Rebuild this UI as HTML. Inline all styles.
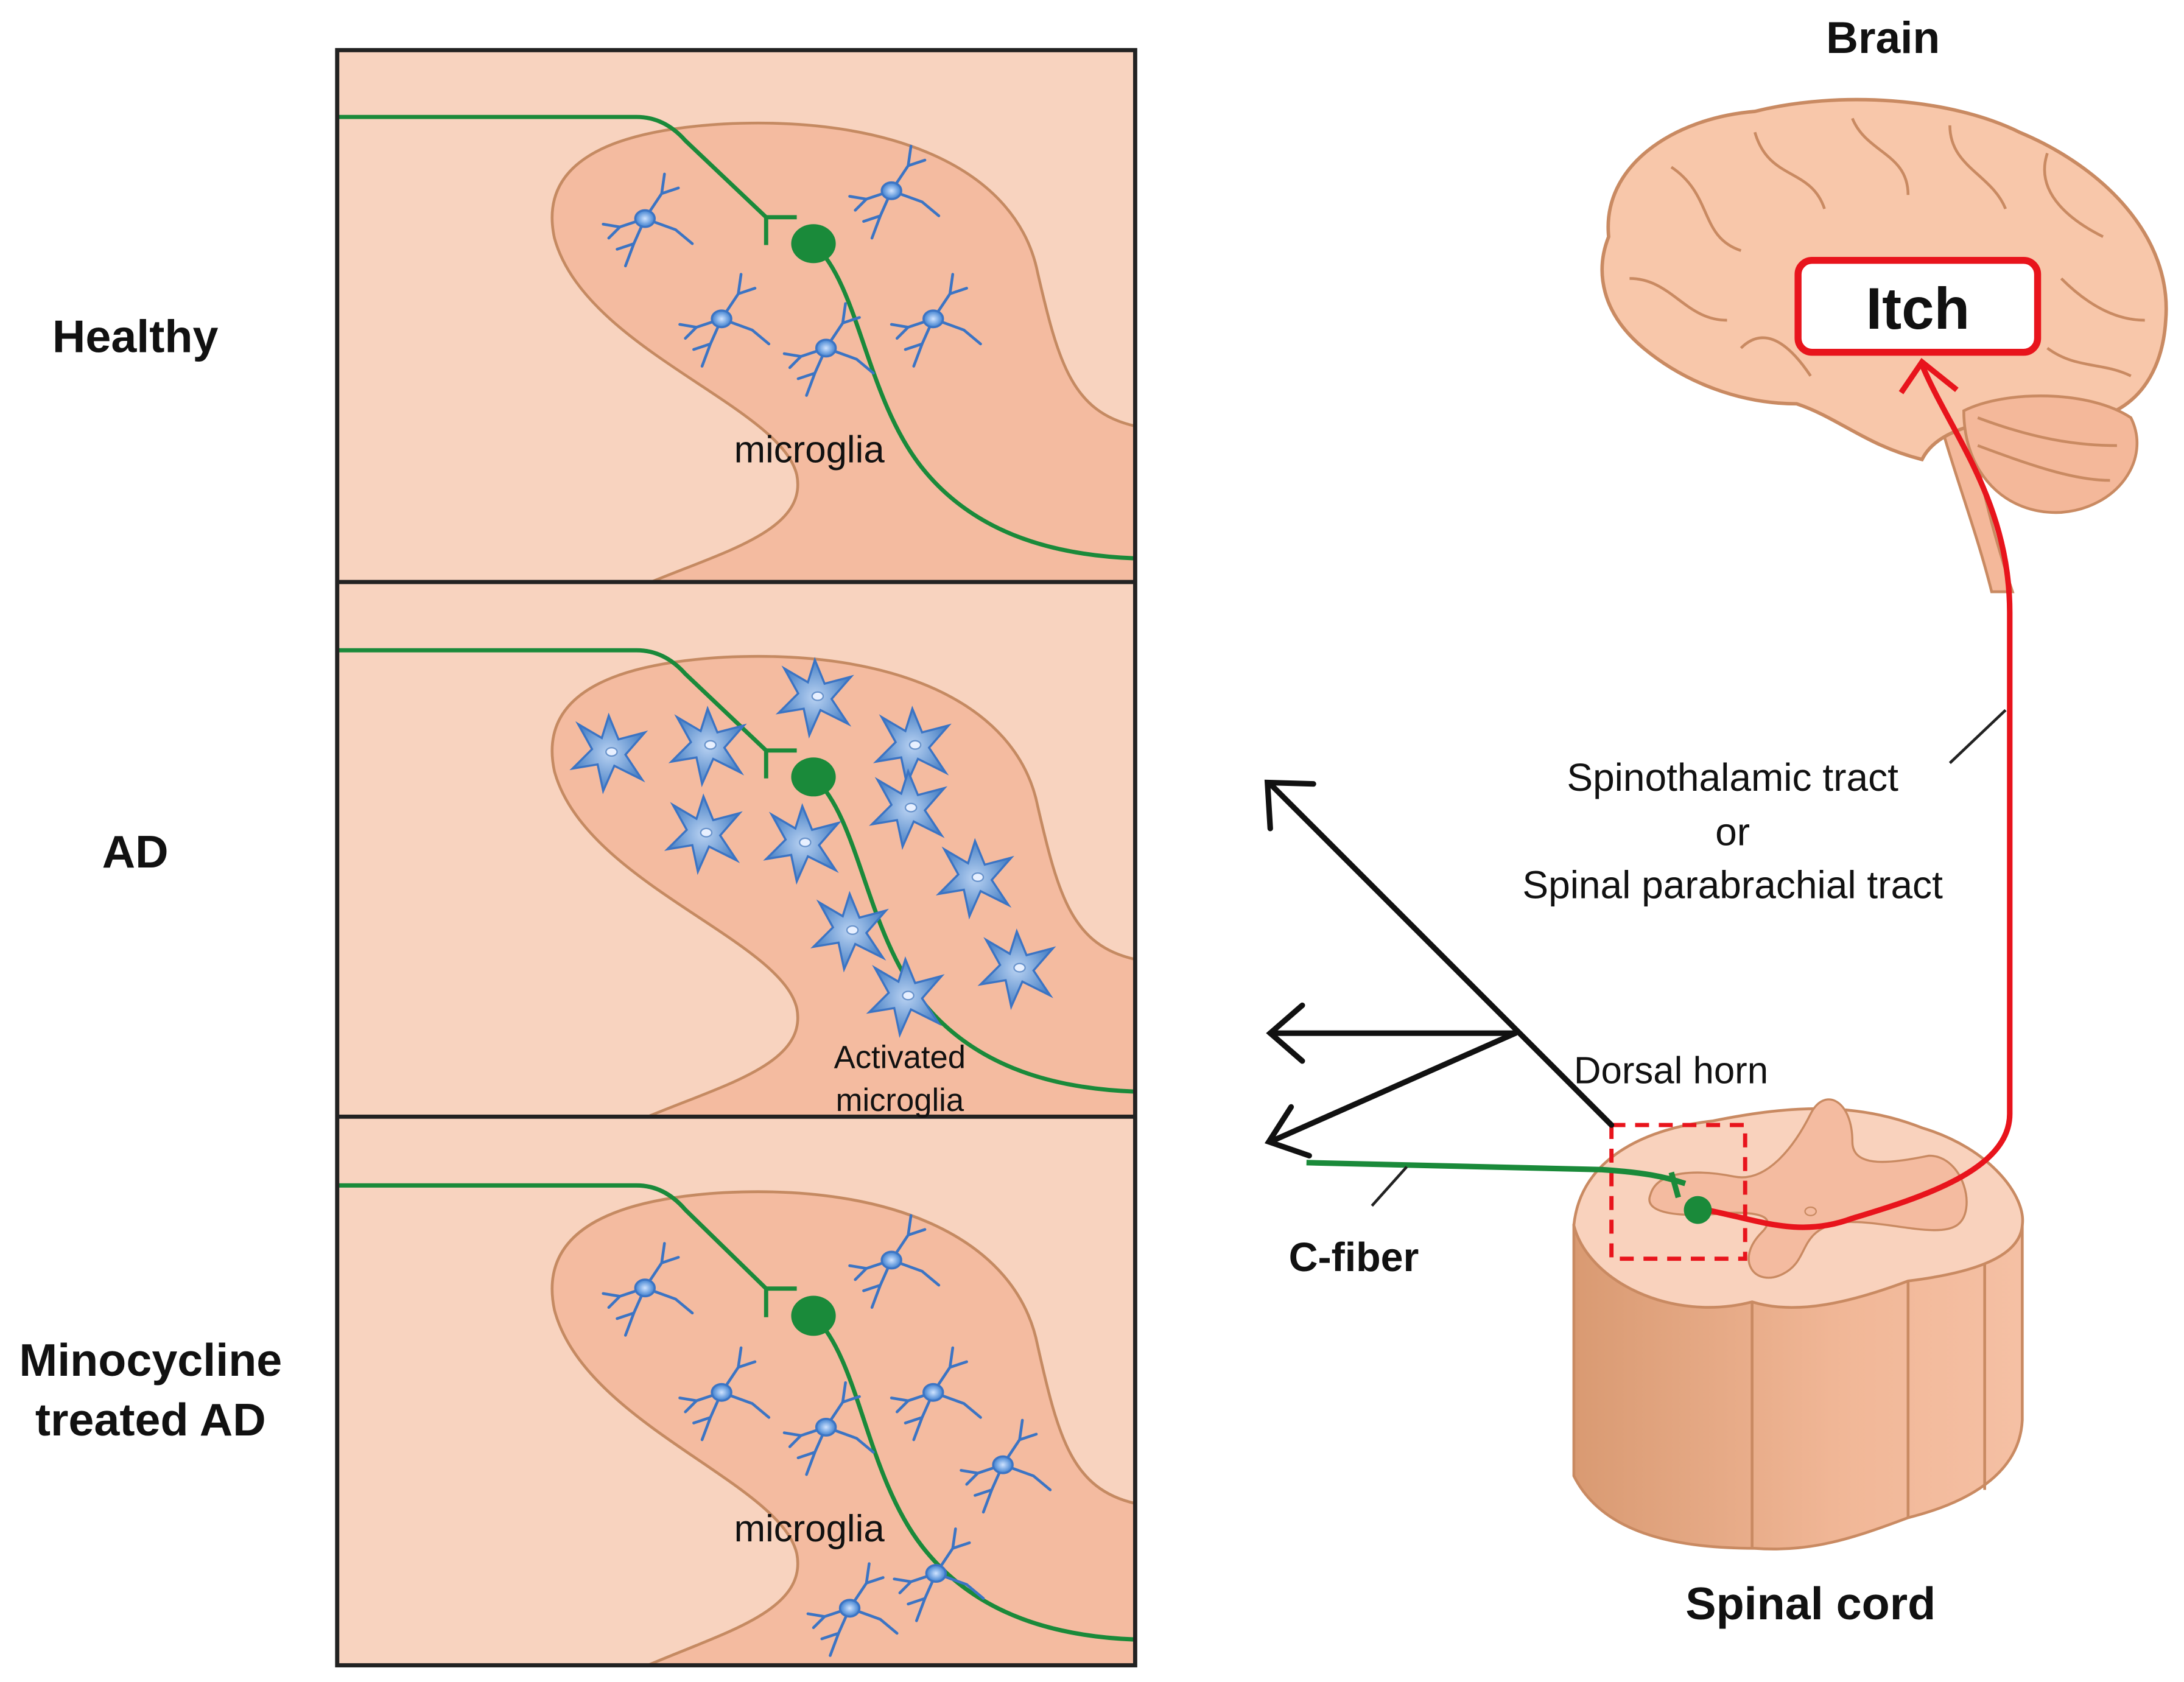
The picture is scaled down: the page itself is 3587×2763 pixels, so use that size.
<!DOCTYPE html>
<html><head><meta charset="utf-8"><style>
html,body{margin:0;padding:0;background:#fff;}
svg{display:block;}
text{font-family:"Liberation Sans",Arial,sans-serif;}
</style></head><body>
<svg width="3587" height="2763" viewBox="0 0 1568 1208" xmlns="http://www.w3.org/2000/svg">
<defs>
<linearGradient id="col" x1="0" x2="1" y1="0" y2="0"><stop offset="0" stop-color="#d99a72"/><stop offset="0.6" stop-color="#f1b797"/><stop offset="1" stop-color="#f5c0a4"/></linearGradient>
<radialGradient id="cell"><stop offset="0" stop-color="#cfe3ff"/><stop offset="1" stop-color="#3d7fcf"/></radialGradient>
<radialGradient id="act"><stop offset="0" stop-color="#b9d2f2"/><stop offset="1" stop-color="#4a82c6"/></radialGradient>
<g id="mg" stroke="#3b74c4" stroke-width="2" fill="none" stroke-linecap="round">
<path d="M0,0 L-18,6 L-30,4 M-18,6 L-26,14 M0,0 L12,-18 L14,-32 M12,-18 L24,-22 M0,0 L-8,18 L-14,34 M-8,18 L-20,22 M0,0 L22,8 L34,18"/>
<ellipse cx="0" cy="0" rx="7" ry="6" fill="url(#cell)" stroke="#3b74c4" stroke-width="1.5"/>
</g>
<g id="am">
<path d="M0,-26 L7,-9 L26,-14 L12,2 L24,20 L4,10 L-4,28 L-8,9 L-26,12 L-12,-2 L-22,-20 L-5,-10 Z" fill="url(#act)" stroke="#3b74c4" stroke-width="1.5"/>
<ellipse cx="2" cy="0" rx="4" ry="3" fill="#e8f0ff" stroke="#6a94cc" stroke-width="1"/>
</g>
<g id="panel">
<rect x="0" y="0" width="573" height="383" fill="#f8d3bf"/>
<path d="M223,383 C278,360 338,345 330,305 C318,255 178,215 156,135 C143,75 208,57 278,53 C398,47 488,85 503,160 C518,225 528,260 573,270 L573,383 Z" fill="#f4bba0" stroke="#c58a62" stroke-width="2"/>
<path d="M0,48 L215,48 Q235,48 250,65 L308,120 L308,140 M308,120 L330,120" stroke="#1a8a3a" stroke-width="3" fill="none"/>
<path d="M343,140 C375,170 380,250 420,300 C460,350 520,363 573,365" stroke="#1a8a3a" stroke-width="3" fill="none"/>
<ellipse cx="342" cy="139" rx="16" ry="14" fill="#1a8a3a"/>
</g>
</defs>

<use href="#panel" x="242" y="36"/>
<use href="#panel" x="242" y="419"/>
<g transform="translate(242,802) scale(1,1.0287)"><use href="#panel"/></g>
<rect x="242" y="36" width="573" height="1160" fill="none" stroke="#222" stroke-width="3"/>
<line x1="242" y1="418" x2="815" y2="418" stroke="#222" stroke-width="3"/>
<line x1="242" y1="802" x2="815" y2="802" stroke="#222" stroke-width="3"/>

<use href="#mg" x="463" y="157"/>
<use href="#mg" x="640" y="137"/>
<use href="#mg" x="518" y="229"/>
<use href="#mg" x="593" y="250"/>
<use href="#mg" x="670" y="229"/>
<text x="581" y="332" font-size="27" text-anchor="middle" fill="#111">microglia</text>

<use href="#am" x="437" y="540"/>
<use href="#am" x="508" y="535"/>
<use href="#am" x="585" y="500"/>
<use href="#am" x="655" y="535"/>
<use href="#am" x="505" y="598"/>
<use href="#am" x="576" y="605"/>
<use href="#am" x="652" y="580"/>
<use href="#am" x="700" y="630"/>
<use href="#am" x="610" y="668"/>
<use href="#am" x="730" y="695"/>
<use href="#am" x="650" y="715"/>
<text x="646" y="767" font-size="23" text-anchor="middle" fill="#111">Activated</text>
<text x="646" y="798" font-size="23" text-anchor="middle" fill="#111">microglia</text>

<use href="#mg" x="463" y="925"/>
<use href="#mg" x="640" y="905"/>
<use href="#mg" x="518" y="1000"/>
<use href="#mg" x="593" y="1025"/>
<use href="#mg" x="670" y="1000"/>
<use href="#mg" x="720" y="1052"/>
<use href="#mg" x="672" y="1130"/>
<use href="#mg" x="610" y="1155"/>
<text x="581" y="1107" font-size="27" text-anchor="middle" fill="#111">microglia</text>

<text x="97" y="253" font-size="33" font-weight="bold" text-anchor="middle" fill="#111">Healthy</text>
<text x="97" y="623" font-size="33" font-weight="bold" text-anchor="middle" fill="#111">AD</text>
<text x="108" y="988" font-size="33" font-weight="bold" text-anchor="middle" fill="#111">Minocycline</text>
<text x="108" y="1031" font-size="33" font-weight="bold" text-anchor="middle" fill="#111">treated AD</text>

<text x="1352" y="38" font-size="32" font-weight="bold" text-anchor="middle" fill="#111">Brain</text>
<path d="M1415,300 C1420,340 1430,380 1445,425 L1430,425 C1420,385 1405,345 1395,310 Z" fill="#f4b89a" stroke="#c98a62" stroke-width="2"/>
<path d="M1155,170 C1150,120 1200,85 1260,80 C1320,65 1400,70 1450,95 C1510,120 1560,170 1555,230 C1552,280 1520,310 1470,300 C1420,300 1390,310 1380,330 C1340,320 1320,300 1290,290 C1250,290 1210,275 1180,250 C1150,225 1145,195 1155,170 Z" fill="#f8c7aa" stroke="#c98a62" stroke-width="2.5"/>
<path d="M1410,295 C1440,280 1500,280 1530,300 C1545,330 1520,365 1480,368 C1440,370 1410,340 1410,295 Z" fill="#f4b89a" stroke="#c98a62" stroke-width="2"/>
<g stroke="#c98a62" stroke-width="2" fill="none">
<path d="M1200,120 C1230,140 1220,170 1250,180 M1260,95 C1270,130 1300,120 1310,150 M1330,85 C1340,110 1370,110 1370,140 M1400,90 C1400,120 1430,125 1440,150 M1470,110 C1460,140 1490,160 1510,170 M1170,200 C1200,200 1210,230 1240,230 M1250,250 C1270,230 1290,255 1300,270 M1480,200 C1500,220 1520,230 1540,230 M1470,250 C1490,265 1510,260 1530,270 M1420,300 C1460,315 1490,320 1520,320 M1420,320 C1460,335 1490,345 1515,345"/>
</g>
<rect x="1291" y="187" width="172" height="66" rx="10" fill="#fff" stroke="#e8141c" stroke-width="5"/>
<text x="1377" y="236" font-size="42" font-weight="bold" text-anchor="middle" fill="#111">Itch</text>

<path d="M1130,880 L1130,1060 C1150,1100 1200,1112 1260,1112 C1300,1115 1330,1105 1370,1090 C1410,1080 1450,1060 1452,1020 L1452,880 Z" fill="url(#col)" stroke="#c98a62" stroke-width="2"/>
<line x1="1258" y1="935" x2="1258" y2="1112" stroke="#c98a62" stroke-width="2"/>
<line x1="1370" y1="920" x2="1370" y2="1090" stroke="#c98a62" stroke-width="2"/>
<line x1="1425" y1="900" x2="1425" y2="1070" stroke="#c98a62" stroke-width="2"/>
<path d="M1130,880 C1135,830 1185,810 1230,805 C1280,795 1330,790 1380,810 C1430,825 1455,860 1452,880 C1450,905 1410,915 1370,920 C1330,935 1290,945 1258,935 C1200,950 1140,920 1130,880 Z" fill="#f9d2bd" stroke="#c98a62" stroke-width="2"/>
<path d="M1185,858 C1190,840 1220,840 1245,845 C1270,850 1290,820 1300,800 C1310,780 1330,790 1330,820 C1330,840 1360,835 1385,830 C1410,830 1420,870 1405,880 C1390,890 1350,875 1320,878 C1290,885 1300,905 1280,915 C1260,925 1245,905 1265,885 C1280,870 1250,870 1230,872 C1200,874 1180,870 1185,858 Z" fill="#f4bba0" stroke="#c98a62" stroke-width="1.5"/>
<ellipse cx="1300" cy="870" rx="4" ry="3" fill="none" stroke="#c98a62" stroke-width="1"/>
<rect x="1157" y="808" width="96" height="96" fill="none" stroke="#e8141c" stroke-width="3" stroke-dasharray="10,7"/>
<text x="1300" y="1163" font-size="33" font-weight="bold" text-anchor="middle" fill="#111">Spinal cord</text>

<path d="M1220,868 C1260,875 1290,890 1330,875 C1380,860 1443,840 1443,800 L1443,440 C1443,360 1400,310 1380,262" fill="none" stroke="#e8141c" stroke-width="4"/>
<path d="M1365,282 L1380,260 L1405,280" fill="none" stroke="#e8141c" stroke-width="4"/>

<path d="M938,835 L1150,840 C1180,842 1195,845 1210,850 M1200,842 L1205,860" fill="none" stroke="#1a8a3a" stroke-width="4"/>
<circle cx="1219" cy="869" r="10" fill="#1a8a3a"/>
<line x1="985" y1="866" x2="1010" y2="838" stroke="#222" stroke-width="2"/>
<text x="972" y="913" font-size="29" font-weight="bold" text-anchor="middle" fill="#111">C-fiber</text>

<g stroke="#111" stroke-width="4" fill="none" stroke-linecap="round">
<line x1="1157" y1="808" x2="912" y2="563"/>
<path d="M912,595 L910,562 L943,563"/>
<line x1="1088" y1="742" x2="912" y2="742"/>
<path d="M935,722 L912,742 L935,762"/>
<line x1="1088" y1="742" x2="912" y2="820"/>
<path d="M927,795 L911,820 L940,830"/>
</g>
<text x="1130" y="778" font-size="27" fill="#111">Dorsal horn</text>
<line x1="1400" y1="548" x2="1440" y2="510" stroke="#222" stroke-width="2"/>
<text x="1244" y="568" font-size="28" text-anchor="middle" fill="#111">Spinothalamic tract</text>
<text x="1244" y="607" font-size="28" text-anchor="middle" fill="#111">or</text>
<text x="1244" y="645" font-size="28" text-anchor="middle" fill="#111">Spinal parabrachial tract</text>
</svg>
</body></html>
